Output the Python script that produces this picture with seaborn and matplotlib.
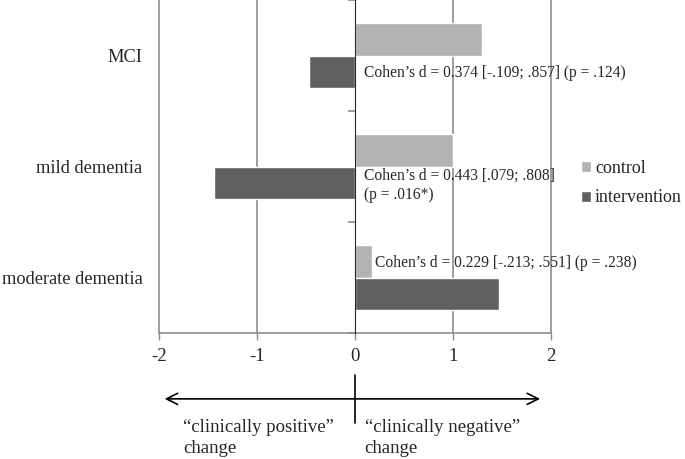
import matplotlib
matplotlib.use('Agg')
import matplotlib.pyplot as plt
import matplotlib.transforms as mtransforms
import pandas as pd
import seaborn as sns

# values
groups = ['MCI', 'mild dementia', 'moderate dementia']
control = [1.30, 1.00, 0.18]
intervention = [-0.47, -1.44, 1.47]
effect_labels = [
    'Cohen\u2019s d = 0.374 [-.109; .857] (p = .124)',
    'Cohen\u2019s d = 0.443 [.079; .808]\n(p = .016*)',
    'Cohen\u2019s d = 0.229 [-.213; .551] (p = .238)',
]
x_ticks = [-2, -1, 0, 1, 2]

df = pd.DataFrame({
    'group': groups * 2,
    'change': control + intervention,
    'condition': ['control'] * 3 + ['intervention'] * 3,
})

sns.set_style('white')
plt.rcParams['font.family'] = ['Liberation Serif', 'DejaVu Serif']

fig = plt.figure(figsize=(6.85, 4.59), dpi=100)
ax = fig.add_axes([0.232, 0.2745, 0.572, 0.7255])

sns.barplot(data=df, y='group', x='change', hue='condition', orient='h',
            palette={'control': '#b3b3b3', 'intervention': '#606060'},
            width=0.58, ax=ax, saturation=1)

ax.set_xlim(-2, 2)
ax.set_ylim(2.5, -0.5)
ax.set_xticks(x_ticks)
ax.set_xticklabels([str(t) for t in x_ticks], fontsize=13.5)
ax.tick_params(axis='x', length=5, width=1, color='#8c8c8c', pad=6, bottom=True)
ax.tick_params(axis='y', length=0, pad=12, labelsize=13.2)
ax.set_xlabel('')
ax.set_ylabel('')
ax.set_axisbelow(True)
for t in x_ticks:
    if t != 0:
        ax.axvline(t, color='#8c8c8c', lw=1.2, zorder=0, clip_on=False)

for side in ['top', 'right', 'left']:
    ax.spines[side].set_visible(False)
ax.spines['bottom'].set_color('#8c8c8c')
ax.spines['bottom'].set_linewidth(1.2)

# zero axis with category separators
sec = ax.secondary_yaxis(0.5)
sec.set_yticks([-0.5, 0.5, 1.5, 2.5])
sec.set_yticklabels([])
sec.tick_params(length=5, width=1.2, color='#8c8c8c', direction='out',
                left=True, right=False)
sec.spines['left'].set_color('#8c8c8c')
sec.spines['left'].set_linewidth(1.5)
sec.set_zorder(5)

# effect size annotations
ax.text(0.09, 0.16, effect_labels[0], fontsize=11.2, va='center', ha='left')
ax.text(0.09, 1.17, effect_labels[1], fontsize=11.2, va='center', ha='left',
        linespacing=1.25)
ax.text(0.21, 1.87, effect_labels[2], fontsize=11.2, va='center', ha='left')

ax.legend(loc='center left', bbox_to_anchor=(1.06, 0.45), frameon=False,
          fontsize=13, handlelength=0.55, handleheight=0.55, handletextpad=0.2,
          labelspacing=0.7, borderaxespad=0)

# direction arrow below the axis
trans = mtransforms.blended_transform_factory(ax.transData, fig.transFigure)
ax.annotate('', xy=(-1.97, 0.131), xytext=(1.92, 0.131),
            xycoords=trans, textcoords=trans,
            arrowprops=dict(arrowstyle='<->', lw=1.2, color='black',
                            mutation_scale=20))
ax.plot([0, 0], [0.078, 0.183], color='black', lw=1.2, transform=trans,
        clip_on=False)
ax.text(-1.75, 0.088, '\u201cclinically positive\u201d\nchange', transform=trans,
        fontsize=13.5, va='top', ha='left', linespacing=1.3)
ax.text(0.1, 0.088, '\u201cclinically negative\u201d\nchange', transform=trans,
        fontsize=13.5, va='top', ha='left', linespacing=1.3)

fig.savefig('out.png', dpi=100)
